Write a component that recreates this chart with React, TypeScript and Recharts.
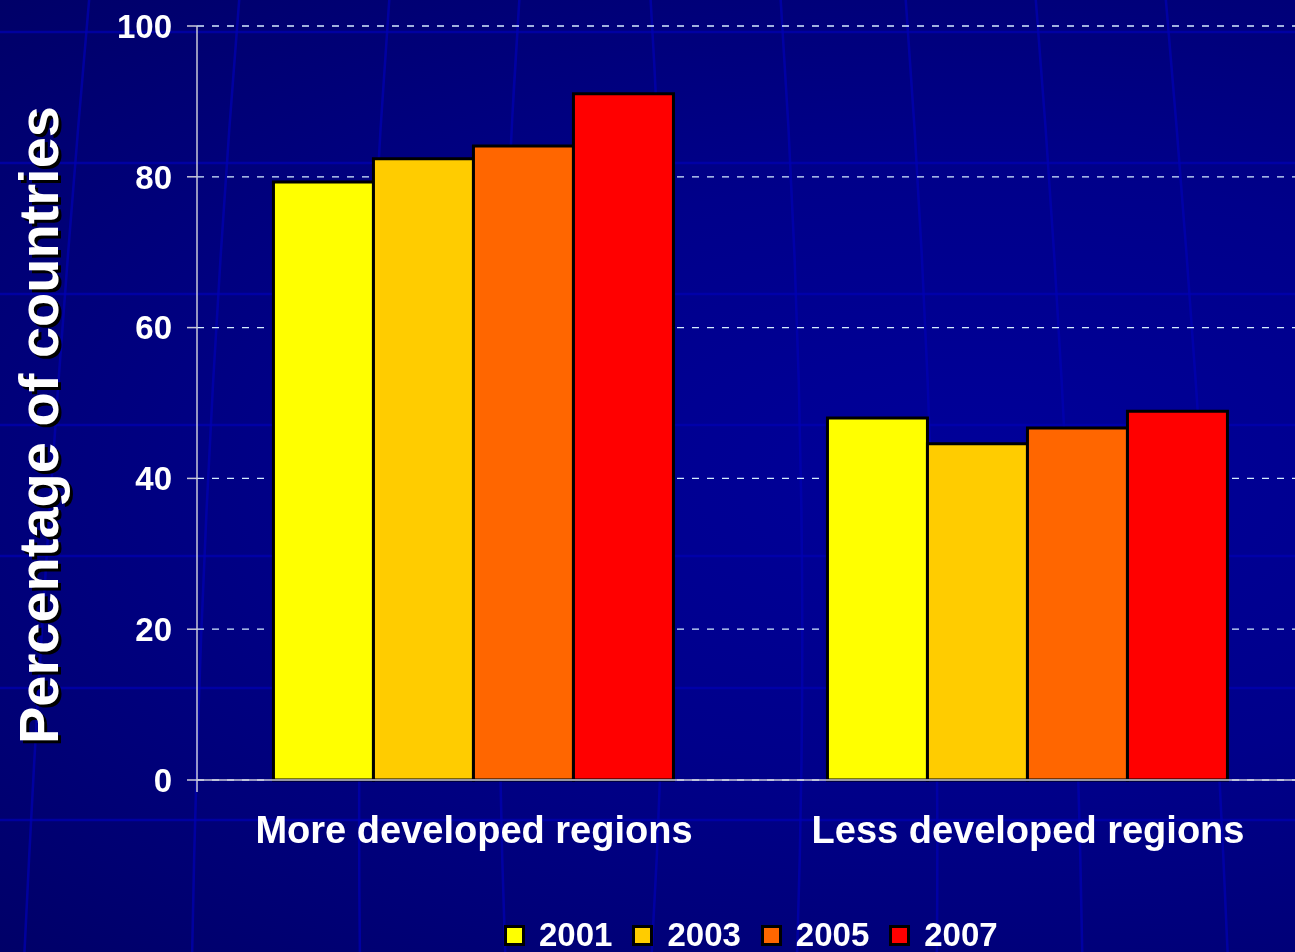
import { BarChart, Bar, XAxis, YAxis, CartesianGrid, Legend } from "recharts";

const categories = ["More developed regions", "Less developed regions"];
const years = ["2001", "2003", "2005", "2007"];
const values2001 = [79.3, 48.0];
const values2003 = [82.4, 44.6];
const values2005 = [84.1, 46.7];
const values2007 = [91.0, 48.9];
const yTicks = [0, 20, 40, 60, 80, 100];
const colors = ["#ffff00", "#ffcc00", "#ff6600", "#ff0000"];

const series = [values2001, values2003, values2005, values2007];

const data = categories.map((name, i) => {
  const row: Record<string, string | number> = { name };
  years.forEach((y, j) => {
    row[y] = series[j][i];
  });
  return row;
});

// band edges for the tick marks under the category axis
const edgeTicks = [...categories.map((_, i) => i), categories.length];

const font = '"Liberation Sans", Arial, sans-serif';
const axisGray = "#c8c8d8";

function YTitle() {
  const x = 38;
  const y = 425;
  const style = { fontFamily: font, fontSize: 56, fontWeight: "bold" as const };
  return (
    <g>
      <text x={x + 3} y={y + 3} transform={`rotate(-90 ${x + 3} ${y + 3})`} textAnchor="middle" dominantBaseline="central" fill="#000000" style={style}>
        Percentage of countries
      </text>
      <text x={x} y={y} transform={`rotate(-90 ${x} ${y})`} textAnchor="middle" dominantBaseline="central" fill="#ffffff" style={style}>
        Percentage of countries
      </text>
    </g>
  );
}

function LegendContent() {
  return (
    <div style={{ display: "flex", alignItems: "center", gap: 20, fontFamily: font }}>
      {years.map((y, i) => (
        <div key={y} style={{ display: "flex", alignItems: "center", gap: 14 }}>
          <div style={{ width: 15, height: 15, background: colors[i], border: "3px solid #000" }} />
          <span style={{ color: "#fff", fontSize: 33, fontWeight: "bold", lineHeight: "34px" }}>{y}</span>
        </div>
      ))}
    </div>
  );
}

function Backdrop() {
  const rows = [32, 163, 294, 425, 556, 688, 820];
  const cols = [-60, 90, 240, 390, 520, 650, 780, 905, 1035, 1165, 1295];
  return (
    <svg width={1295} height={952} style={{ position: "absolute", left: 0, top: 0 }}>
      {rows.map((r) => (
        <line key={r} x1={0} x2={1295} y1={r} y2={r} stroke="#0000b4" strokeWidth={2.5} opacity={0.7} />
      ))}
      {cols.map((c) => {
        const bend = (c - 640) * 0.12;
        return (
          <path
            key={c}
            d={`M ${c} -10 Q ${c + bend * 0.2 + (c > 640 ? 30 : -30)} 476 ${c + bend} 962`}
            stroke="#0000b4"
            strokeWidth={2.5}
            fill="none"
            opacity={0.7}
          />
        );
      })}
    </svg>
  );
}

export default function App() {
  return (
    <div
      style={{
        position: "fixed",
        left: 0,
        top: 0,
        width: 1295,
        height: 952,
        overflow: "hidden",
        background: "radial-gradient(ellipse at 75% 50%, #00009a 0%, #00008a 45%, #000068 100%)",
      }}
    >
      <Backdrop />
      <div style={{ position: "absolute", left: 0, top: 0 }}>
        <BarChart
          width={1313}
          height={952}
          data={data}
          margin={{ top: 26, right: 8, left: 0, bottom: 0 }}
          barCategoryGap="13.8%"
          barGap={0}
        >
          <CartesianGrid vertical={false} stroke="#d4ecff" strokeDasharray="7 8" strokeWidth={1.3} />
          <XAxis
            xAxisId="a"
            type="number"
            domain={[0, categories.length]}
            ticks={edgeTicks}
            allowDataOverflow
            height={1}
            tickSize={12}
            tickFormatter={() => ""}
            axisLine={{ stroke: axisGray, strokeWidth: 1.5 }}
            tickLine={{ stroke: axisGray, strokeWidth: 1.5 }}
          />
          <XAxis
            xAxisId="b"
            dataKey="name"
            height={137}
            axisLine={false}
            tickLine={false}
            tickSize={0}
            tickMargin={35}
            tick={{ fill: "#ffffff", fontSize: 38, fontWeight: "bold", fontFamily: font }}
          />
          <YAxis
            domain={[0, 100]}
            ticks={yTicks}
            width={197}
            tickSize={10}
            tickMargin={15}
            axisLine={{ stroke: axisGray, strokeWidth: 1.5 }}
            tickLine={{ stroke: axisGray, strokeWidth: 1.5 }}
            tick={{ fill: "#ffffff", fontSize: 33, fontWeight: "bold", fontFamily: font }}
            label={<YTitle />}
          />
          {years.map((y, i) => (
            <Bar
              key={y}
              xAxisId="b"
              dataKey={y}
              fill={colors[i]}
              stroke="#000000"
              strokeWidth={3}
              isAnimationActive={false}
            />
          ))}
          <Legend
            content={<LegendContent />}
            wrapperStyle={{ position: "absolute", left: 504, top: 918, bottom: "auto", width: 520, height: 34 }}
          />
        </BarChart>
      </div>
    </div>
  );
}
